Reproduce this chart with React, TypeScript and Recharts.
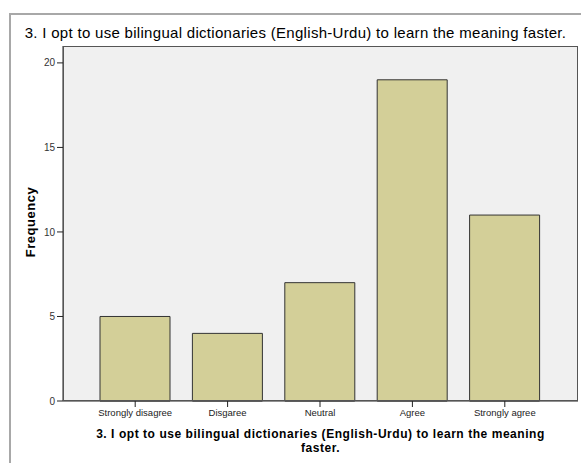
import React from 'react';
import { BarChart, Bar, XAxis, YAxis, CartesianGrid } from 'recharts';

const categories = ['Strongly disagree', 'Disgaree', 'Neutral', 'Agree', 'Strongly agree'];
const frequencies = [5, 4, 7, 19, 11];
const yTicks = [0, 5, 10, 15, 20];

const title = '3. I opt to use bilingual dictionaries (English-Urdu) to learn the meaning faster.';
const xTitleLines = ['3. I opt to use bilingual dictionaries (English-Urdu) to learn the meaning', 'faster.'];

const data = categories.map((name, i) => ({ name, value: frequencies[i] }));

const font = 'Arial, "Liberation Sans", sans-serif';

export default function App() {
  return (
    <div style={{ position: 'absolute', left: 0, top: 0, width: 581, height: 463, overflow: 'hidden', background: '#fff', fontFamily: font }}>
      <div style={{ position: 'absolute', left: 9, top: 13, width: 620, height: 520, border: '2px solid #a8a8a8', boxSizing: 'border-box' }} />
      <div style={{ position: 'absolute', left: 0, width: 591, top: 25, textAlign: 'center', fontSize: 15, letterSpacing: 0.3, lineHeight: '16px', color: '#000' }}>
        {title}
      </div>
      <BarChart
        width={581}
        height={463}
        data={data}
        margin={{ top: 46, right: 3, bottom: 32, left: 13 }}
        barSize={70}
        style={{ position: 'absolute', left: 0, top: 0 }}
      >
        <CartesianGrid fill="#f0f0f0" horizontal={false} vertical={false} />
        <XAxis
          dataKey="name"
          height={30}
          padding={{ left: 26, right: 27 }}
          axisLine={{ stroke: '#222' }}
          tickLine={{ stroke: '#222' }}
          tickSize={6}
          tick={{ fontSize: 9.5, fill: '#222', fontFamily: font }}
          interval={0}
        />
        <YAxis
          width={50}
          domain={[0, 21]}
          ticks={yTicks}
          axisLine={{ stroke: '#222' }}
          tickLine={{ stroke: '#222' }}
          tickSize={6}
          tick={{ fontSize: 10, fill: '#333', fontFamily: font }}
        />
        <Bar dataKey="value" fill="#d3cf98" stroke="#333" strokeWidth={1} isAnimationActive={false} />
      </BarChart>
      <div style={{ position: 'absolute', left: 63, top: 46, width: 515, height: 355, border: '1px solid #555', boxSizing: 'border-box', pointerEvents: 'none' }} />
      <div
        style={{
          position: 'absolute',
          left: 30,
          top: 222,
          transform: 'translate(-50%, -50%) rotate(-90deg)',
          fontSize: 13,
          letterSpacing: 0.5,
          fontWeight: 'bold',
          whiteSpace: 'nowrap',
          color: '#000',
        }}
      >
        Frequency
      </div>
      <div style={{ position: 'absolute', left: 63, width: 515, top: 427, textAlign: 'center', fontSize: 12, letterSpacing: 0.55, fontWeight: 'bold', lineHeight: '14px', color: '#000' }}>
        {xTitleLines.map((line) => (
          <div key={line}>{line}</div>
        ))}
      </div>
    </div>
  );
}
